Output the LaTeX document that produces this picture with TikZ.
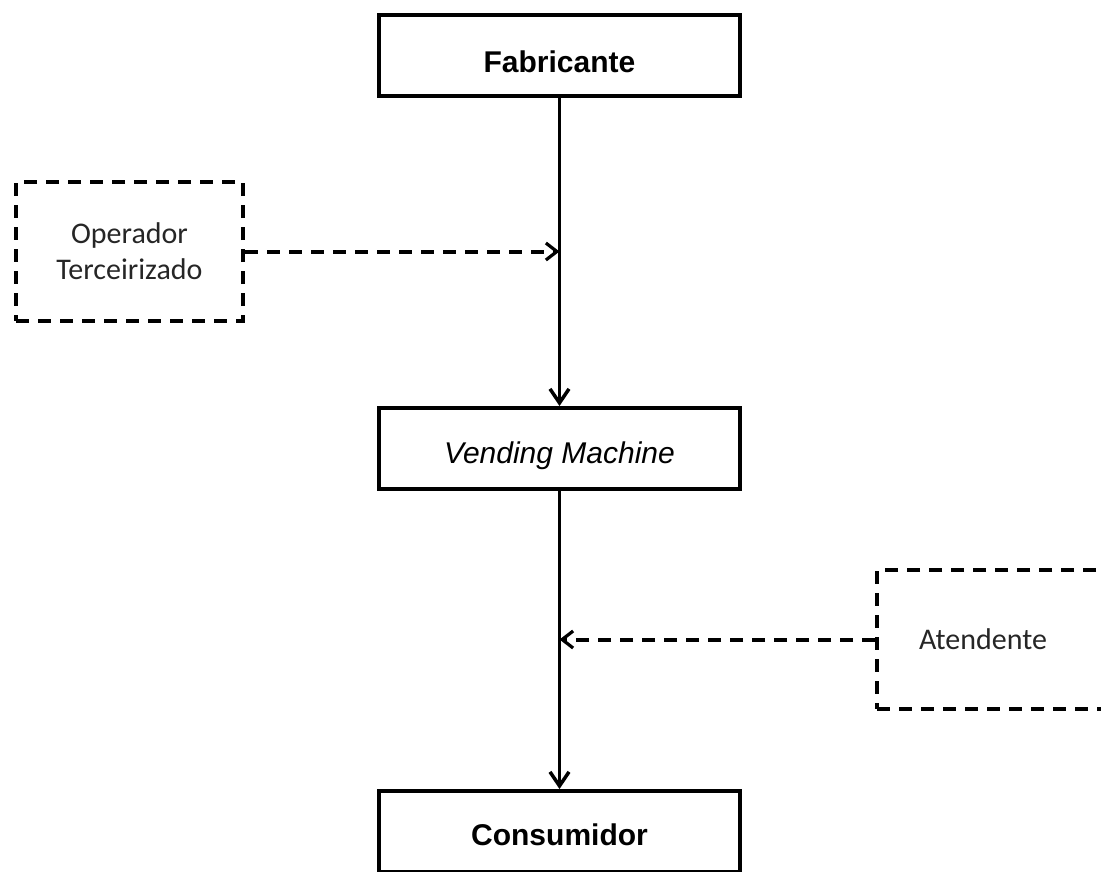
\documentclass[tikz,border=0pt]{standalone}
\usepackage{fontspec}
\setmainfont{Liberation Sans}
\newfontfamily\calib{Carlito}
\usetikzlibrary{arrows.meta}
\begin{document}
\begin{tikzpicture}[x=1pt,y=-1pt,
  solidbox/.style={draw, line width=4pt, minimum width=361pt, minimum height=81pt,
    inner sep=0pt, font=\fontsize{30}{36}\selectfont, text height=21.5pt, text depth=0pt},
  dashbox/.style={draw, line width=4pt, dash pattern=on 13pt off 9pt,
    minimum width=227pt, minimum height=139pt, inner sep=0pt, align=center,
    font=\calib\fontsize{30}{36}\selectfont, text=black!85},
  flow/.style={line width=3.5pt, -{Straight Barb[length=14pt,width=19pt]}},
  feed/.style={line width=4pt, dash pattern=on 13pt off 9pt,
    -{Straight Barb[length=11pt,width=17pt,line width=3.2pt]}}]
  \clip (0,0) rectangle (1101,871);
  \useasboundingbox (0,0) rectangle (1101,871);

  % main chain
  \node[solidbox] (fab) at (559.5,55.5) {\raisebox{-6.5pt}{\bfseries Fabricante}};
  \node[solidbox] (vm)  at (559.5,448.5) {\raisebox{-4.5pt}{\itshape Vending Machine}};
  \node[solidbox] (con) at (559.5,831.5) {\raisebox{-3.5pt}{\bfseries Consumidor}};

  % side actors
  \node[dashbox] (op) at (129.5,251.5) {Operador\\Terceirizado};
  \node[dashbox] (at) at (990.5,639.5) {\hspace*{-15pt}Atendente};

  \draw[flow] (fab.south) -- (vm.north);
  \draw[flow] (vm.south) -- (con.north);
  \draw[feed] (op.east) -- (op.east -| fab.south);
  \draw[feed] (at.west) -- (at.west -| vm.south);
\end{tikzpicture}
\end{document}
